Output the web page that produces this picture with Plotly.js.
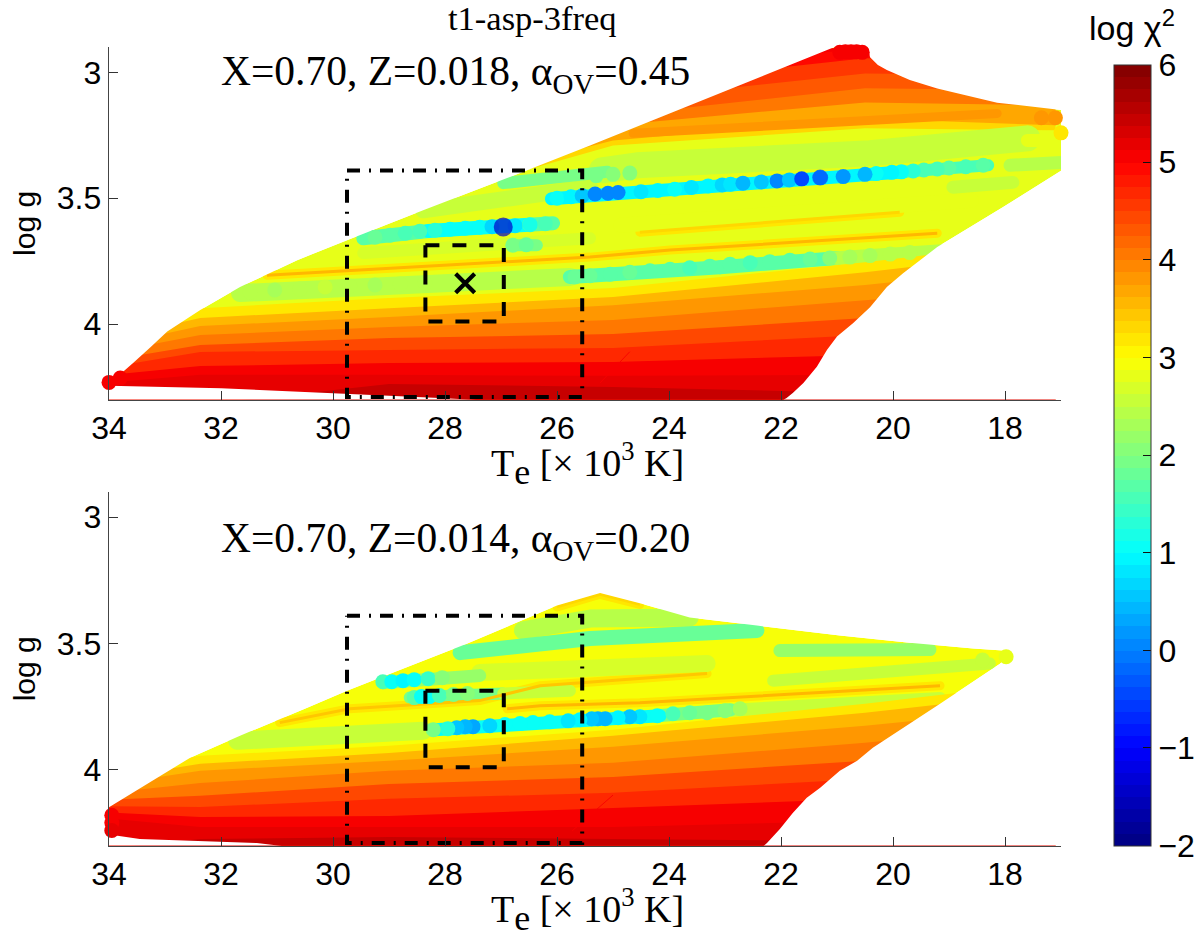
<!DOCTYPE html>
<html><head><meta charset="utf-8">
<script src="https://cdn.plot.ly/plotly-3.0.1.min.js"></script>
<style>html,body{margin:0;padding:0;background:#fff}</style></head>
<body><div id="chart" style="width:1200px;height:945px"></div>
<script>
// ---------- axis ticks ----------
const teTicks = [34,32,30,28,26,24,22,20,18];
const gTicks = [3,3.5,4];
const gTickLabels = ['3','3.5','4'];
const chiTicks = [-2,-1,0,1,2,3,4,5,6];

// ---------- search boxes ----------
const outerTe = [29.75,25.55,25.55,29.75,29.75];
const outerG = [3.39,3.39,4.29,4.29,3.39];
const innerTe = [28.35,26.95,26.95,28.35,28.35];
const innerG = [3.687,3.687,3.99,3.99,3.687];
const starTe = [27.64];
const starG = [3.838];

// ---------- grid outlines ----------
const topHullTe = [34.04,33.8,33.57,33.25,32.96,32.37,31.66,30.64,29.75,28.39,26.89,25.41,20.89,20.46,20.41,20.27,20.11,19.7,19.21,18.14,16.96,16.9,16.9,18.04,19.21,19.82,20.11,20.41,20.71,21.0,21.18,21.36,21.6,21.79,21.9,22.1,26,28,30,32,34.04];
const topHullG = [4.23,4.2,4.155,4.09,4.03,3.944,3.853,3.746,3.667,3.548,3.42,3.29,2.885,2.885,2.94,2.97,2.99,3.03,3.064,3.12,3.15,3.28,3.377,3.536,3.694,3.798,3.853,3.933,3.996,4.05,4.103,4.17,4.234,4.274,4.294,4.32,4.32,4.295,4.275,4.255,4.245];
const botHullTe = [34.05,33.32,32.55,31.66,30.46,29.75,28.98,27.6,26,25.23,24.52,23.63,22.43,20.95,19.75,18.57,18.04,17.95,18.09,19.16,20.36,20.64,20.95,21.3,21.54,21.79,22.02,22.25,22.41,30.2,31.36,33.45,34.05,34.05];
const botHullG = [4.155,4.056,3.952,3.865,3.754,3.687,3.62,3.5,3.349,3.30,3.34,3.397,3.429,3.468,3.496,3.52,3.528,3.552,3.58,3.738,3.913,3.964,4.004,4.071,4.111,4.171,4.234,4.29,4.32,4.32,4.29,4.274,4.254,4.175];

// ---------- log chi2 levels, lower and upper parts of each grid ----------
const stationTe = [34.5,32.37,29,25,20.5,17.1];
const topLowerChi = [3.2,3.5,3.8,4.1,4.4,4.7,5.0,5.2,5.4];
const topLowerG = [
 [4.044,3.937,3.897,3.857,3.754,3.667],
 [4.083,3.976,3.937,3.893,3.794,3.706],
 [4.111,4.008,3.972,3.925,3.845,3.766],
 [4.135,4.044,4.012,3.984,3.905,3.845],
 [4.163,4.083,4.056,4.04,3.976,3.925],
 [4.19,4.111,4.103,4.095,4.044,4.004],
 [4.214,4.167,4.155,4.151,4.123,4.083],
 [4.242,4.202,4.202,4.206,4.202,4.183],
 [4.32,4.32,4.238,4.25,4.274,4.3]];
const botLowerChi = [3.2,3.5,3.8,4.1,4.4,4.7,5.0,5.2,5.4];
const botLowerG = [
 [4.024,3.944,3.905,3.841,3.738,3.65],
 [4.052,3.976,3.933,3.865,3.774,3.69],
 [4.075,4.004,3.964,3.909,3.825,3.75],
 [4.103,4.052,4.004,3.972,3.893,3.82],
 [4.123,4.103,4.056,4.028,3.964,3.9],
 [4.143,4.147,4.115,4.091,4.036,3.98],
 [4.163,4.187,4.183,4.151,4.115,4.06],
 [4.183,4.226,4.226,4.226,4.202,4.16],
 [4.321,4.274,4.266,4.274,4.282,4.3]];
const upperTe = [28.46,25,20.5,17.1];
const topUpperChi = [3.3,3.7,4.0,4.3,4.6,4.9,5.05];
const topUpperG = [
 [3.508,3.29,3.222,3.23],
 [3.468,3.27,3.183,3.21],
 [3.429,3.21,3.119,3.131],
 [3.389,3.171,3.063,3.071],
 [3.349,3.111,3.004,3.012],
 [3.31,3.052,2.944,2.952],
 [3.27,3.0,2.905,2.905]];
const topBaseChi = 2.85;
const botBaseChi = 2.9;

// ---------- broad tracks ----------
const topBroadChi = [2.5,3.75,2.6,1.9,2.75,2.4,1.7,1.7,2.4,2.7,1.7,1.05,1.7,0.95,1.6,2.4,2.6,2.75,1.9];
const topBroadTe = [
 [25.2,24.57,20.41,17.6],[24.64,18.14],[28.39,25.41],[26.96,25.1],[24.86,18.6],[31.66,28.39,25.77],[25.77,23.09],[23.09,21],[21,18.8],
 [29.46,25.41],[29.46,28.3],[28.3,26.5],[26.5,26.07],[26.1,19.8],[19.8,18.3],[17.91,16.96],[18.93,17.86],[17.6,16.9],[26.79,26.36]];
const topBroadG = [
 [3.389,3.369,3.321,3.262],[3.242,3.163],[3.548,3.456],[3.44,3.395],[3.607,3.508],[3.877,3.837,3.813],[3.813,3.774],[3.774,3.738],[3.738,3.706],
 [3.718,3.659],[3.659,3.63],[3.63,3.605],[3.605,3.599],[3.502,3.395],[3.395,3.369],[3.369,3.357],[3.456,3.437],[3.27,3.27],[3.687,3.687]];
const topThinChi = [3.5,3.3];
const topThinTe = [[31.18,25.41,23.98,19.21],[24.52,19.88]];
const topThinG = [[3.806,3.734,3.706,3.639],[3.635,3.556]];
const topSeamTe = [25.23,24.7];
const topSeamG = [4.234,4.11];
const topSeamChi = 5.1;

const botBroadChi = [2.45,1.85,2.2,2.65,2.5,2.6,2.5,1.9,1.0,2.2,1.9,2.5];
const botBroadTe = [
 [26.61,25.41,23.63],[27.73,25.41,22.43],[22.02,19.34],[27.38,26.3,23.32],[22.14,18.27],[31.71,28.39],
 [23.04,19.16],[24.2,22.9],[28.18,25.41,24.16],[29.11,27.38],[28.63,26.96],[26.96,25.77]];
const botBroadG = [
 [3.448,3.401,3.397],[3.536,3.48,3.448],[3.528,3.524],[3.615,3.607,3.579],[3.647,3.579],[3.885,3.845],
 [3.766,3.718],[3.786,3.762],[3.841,3.8,3.786],[3.655,3.627],[3.714,3.698],[3.698,3.687]];
const botThinChi = [3.45,3.5,3.3];
const botThinTe = [[30.95,29.7,27.38,26.3,23.32],[26.89,26.3,24.52,19.16],[26,25.23,24.52]];
const botThinG = [[3.813,3.758,3.726,3.667,3.619],[3.758,3.746,3.734,3.667],[3.355,3.305,3.345]];
const botSeamTe = [25.73,25.0];
const botSeamG = [4.242,4.1];
const botSeamChi = 5.1;

// ---------- individual models ----------
const topPointTe = [20.95,20.85,20.75,20.65,20.55,34.0,33.8, 17.35,17.1,16.98,16.98,17.0,
 31.48,31.04,30.59,30.14,29.7,29.25,28.8,28.36,
 19.7,20.05,20.41,20.77,21.13,21.48,21.84,22.2,22.55,22.91,23.27,23.63,23.98,24.34,24.7,25.05,25.41,25.68,
 26.79,26.55,
 29.25,28.98,28.71,28.45,28.18,27.91,27.64,27.38,27.16,26.75,26.48,26.21,
 25.3,25.0,24.7,
 18.39,18.7,19.0,19.21,19.45,19.64,19.85,20.02,20.3,
 26.0,25.75,25.55,24.5,24.2,23.9,23.6,23.3,23.05,22.9,22.68,22.35,22.07,21.85,21.3,21.63,20.89,20.5,
 25.32,25.09,24.91];
const topPointG = [2.92,2.918,2.918,2.918,2.92,4.232,4.215, 3.18,3.18,3.28,3.36,3.24,
 3.873,3.865,3.861,3.853,3.849,3.845,3.841,3.837,
 3.716,3.722,3.728,3.734,3.738,3.742,3.746,3.752,3.756,3.762,3.77,3.776,3.782,3.788,3.794,3.802,3.808,3.813,
 3.687,3.685,
 3.655,3.647,3.639,3.631,3.627,3.623,3.619,3.615,3.613,3.609,3.605,3.601,
 3.41,3.405,3.4,
 3.369,3.375,3.38,3.384,3.388,3.392,3.395,3.397,3.402,
 3.5,3.494,3.49,3.474,3.469,3.464,3.457,3.451,3.447,3.444,3.44,3.435,3.431,3.427,3.418,3.423,3.414,3.405,
 3.483,3.48,3.477];
const topPointChi = [5.05,5.05,5.05,5.05,5.0,5.0,5.0, 3.75,3.75,2.75,2.4,3.2,
 2.45,2.35,2.4,2.5,2.45,2.35,2.4,2.45,
 2.45,2.4,2.35,2.3,2.0,1.75,1.7,1.65,1.6,1.7,1.65,1.6,1.7,1.65,1.75,1.7,1.75,1.8,
 1.9,1.85,
 1.8,1.7,1.5,1.5,1.3,1.05,1.0,1.05,0.7,0.8,1.2,1.6,
 1.9,2.0,2.1,
 1.7,1.6,1.65,1.55,1.5,1.3,1.05,0.9,1.0,
 1.0,0.9,0.6,0.8,0.95,1.0,0.85,0.95,0.7,0.8,0.4,0.6,0.1,0.5,0.2,-0.4,0.2,0.4,
 0.05,0.0,0.1];
const topBestTe = [21.3,26.96];
const topBestG = [3.418,3.614];
const topBestChi = [-0.35,-1.4];

const botPointTe = [17.98,18.4,33.95,33.95,33.95,
 22.73,23,23.32,23.63,23.93,24.21,24.52,24.7,24.91,25.14,25.27,25.38,25.59,25.8,26.13,26.43,26.66,26.93,27.2,27.5,27.64,27.79,27.95,28.21,
 29.11,28.95,28.75,28.55,28.3,28.05,
 28.55,28.42,28.28,28.1,27.85,27.6];
const botPointG = [3.552,3.565,4.18,4.21,4.24,
 3.758,3.766,3.774,3.774,3.778,3.786,3.79,3.79,3.794,3.798,3.798,3.798,3.802,3.806,3.81,3.813,3.817,3.821,3.825,3.829,3.829,3.833,3.837,3.841,
 3.651,3.651,3.647,3.643,3.639,3.635,
 3.714,3.71,3.71,3.706,3.702,3.698];
const botPointChi = [2.8,2.6,5.0,5.1,5.2,
 2.3,2.1,1.9,1.8,1.6,1.1,0.75,0.6,0.95,0.45,0.4,0.5,0.9,0.85,1.0,1.0,1.1,1.05,0.7,0.25,0.45,0.5,1.3,1.9,
 1.5,1.0,0.95,1.1,1.4,2.0,
 1.7,1.0,1.0,1.6,1.9,2.0];

// ---------- colour map ----------
const jetLevels = 64, chiMin = -2, chiMax = 6;
function clamp01(v){return Math.max(0,Math.min(1,v));}
function jetLevelColor(i){
  const t=(i+0.5)/jetLevels;
  const c=k=>Math.round(255*clamp01(1.5-Math.abs(4*t-k)));
  return `rgb(${c(3)},${c(2)},${c(1)})`;
}
function jet(v){
  const i=Math.max(0,Math.min(jetLevels-1,Math.floor((v-chiMin)/(chiMax-chiMin)*jetLevels)));
  return jetLevelColor(i);
}
const stepScale=[];
for(let i=0;i<jetLevels;i++){
  stepScale.push([i/jetLevels,jetLevelColor(i)]);
  stepScale.push([(i+1)/jetLevels,jetLevelColor(i)]);
}

// ---------- traces ----------
const traces=[];
const off={hoverinfo:'skip',showlegend:false};
function polygon(xs,ys,chi,ax){
  traces.push(Object.assign({type:'scatter',mode:'none',x:xs,y:ys,fill:'toself',fillcolor:jet(chi),xaxis:ax[0],yaxis:ax[1]},off));
}
function path(xs,ys,color,width,ax,dash){
  traces.push(Object.assign({type:'scatter',mode:'lines',x:xs,y:ys,xaxis:ax[0],yaxis:ax[1],
    line:{color:color,width:width,dash:dash||'solid',shape:'linear'}},off));
}
function panel(ax,o){
  polygon(o.hullTe,o.hullG,o.base,ax);
  o.upperChi.forEach((c,k)=>polygon(upperTe.concat([17.1,28.46]),o.upperG[k].concat([2.905,2.905]),c,ax));
  o.thinChi.forEach((c,k)=>path(o.thinTe[k],o.thinG[k],jet(3.15),9,ax));
  o.broadChi.forEach((c,k)=>path(o.broadTe[k],o.broadG[k],jet(c),o.wide[k]||15,ax));
  o.lowerChi.forEach((c,k)=>polygon(stationTe.concat([17.1,34.5]),o.lowerG[k].concat([4.5,4.5]),c,ax));
  o.thinChi.forEach((c,k)=>path(o.thinTe[k],o.thinG[k],jet(c),3,ax));
  path(o.seamTe,o.seamG,jet(o.seamChi),0.9,ax);
  // white outside the model grid
  const maskX=[34.6,34.6,16.4,16.4,34.6,null].concat(o.hullTe);
  const maskY=[2.7,4.5,4.5,2.7,2.7,null].concat(o.hullG);
  traces.push(Object.assign({type:'scatter',mode:'none',x:maskX,y:maskY,fill:'toself',fillcolor:'#ffffff',xaxis:ax[0],yaxis:ax[1]},off));
  traces.push(Object.assign({type:'scatter',mode:'markers',x:o.pTe,y:o.pG,xaxis:ax[0],yaxis:ax[1],cliponaxis:false,
    marker:{size:15,color:o.pChi,coloraxis:'coloraxis',line:{width:0}}},off));
  path(outerTe,outerG,'#000',4,ax,'13px,9px,2px,9px');
  path(innerTe,innerG,'#000',4,ax,'14px,13px');
}
panel(['x','y'],{hullTe:topHullTe,hullG:topHullG,base:topBaseChi,upperChi:topUpperChi,upperG:topUpperG,
  broadChi:topBroadChi,broadTe:topBroadTe,broadG:topBroadG,wide:[26,9,16,12,15,18,14,14,14,12,14,14,14,13,12,13,13,13,12],
  lowerChi:topLowerChi,lowerG:topLowerG,thinChi:topThinChi,thinTe:topThinTe,thinG:topThinG,seamTe:topSeamTe,seamG:topSeamG,seamChi:topSeamChi,
  pTe:topPointTe,pG:topPointG,pChi:topPointChi});
traces.push(Object.assign({type:'scatter',mode:'markers',x:topBestTe,y:topBestG,xaxis:'x',yaxis:'y',
  marker:{size:[16,19],color:topBestChi,coloraxis:'coloraxis',line:{width:0}}},off));
traces.push(Object.assign({type:'scatter',mode:'markers',x:starTe,y:starG,xaxis:'x',yaxis:'y',
  marker:{symbol:'x-thin',size:19,color:'#000',line:{width:4.2,color:'#000'}}},off));
panel(['x2','y2'],{hullTe:botHullTe,hullG:botHullG,base:botBaseChi,upperChi:[],upperG:[],
  broadChi:botBroadChi,broadTe:botBroadTe,broadG:botBroadG,wide:[18,15,13,17,12,18,13,13,13,13,12,12],
  lowerChi:botLowerChi,lowerG:botLowerG,thinChi:botThinChi,thinTe:botThinTe,thinG:botThinG,seamTe:botSeamTe,seamG:botSeamG,seamChi:botSeamChi,
  pTe:botPointTe,pG:botPointG,pChi:botPointChi});

// ---------- layout ----------
const sans='"Liberation Sans", Arial, sans-serif';
const serif='"Liberation Serif", "Times New Roman", serif';
function xAxis(anchor){
  return {domain:[109/1200,1061/1200],range:[34,17],anchor:anchor,tickmode:'array',tickvals:teTicks,ticktext:teTicks.map(String),
    ticks:'inside',ticklen:9,tickwidth:1,tickcolor:'#333',showline:true,linecolor:'#444',linewidth:1.4,showgrid:false,zeroline:false,
    tickfont:{family:sans,size:32,color:'#000'}};
}
function yAxis(dom,anchor){
  return {domain:dom,range:[4.3,2.9],anchor:anchor,tickmode:'array',tickvals:gTicks,ticktext:gTickLabels,
    ticks:'inside',ticklen:9,tickwidth:1,tickcolor:'#333',showline:true,linecolor:'#444',linewidth:1.4,showgrid:false,zeroline:false,
    tickfont:{family:sans,size:32,color:'#000'},
    title:{text:'log g',font:{family:sans,size:30,color:'#000'},standoff:12}};
}
const xTitle='T<sub><span style="font-size:36px">e</span></sub> [× 10<sup>3</sup> K]';
function note(px,py,anchor,text,family,size){
  return {xref:'paper',yref:'paper',x:px/1200,y:1-py/945,xanchor:anchor,yanchor:'middle',showarrow:false,text:text,font:{family:family,size:size,color:'#000'}};
}
const layout={
  width:1200,height:945,margin:{l:0,r:0,t:0,b:0,autoexpand:false},paper_bgcolor:'#fff',plot_bgcolor:'#fff',showlegend:false,
  xaxis:xAxis('y'),
  yaxis:yAxis([1-399.5/945,1-47.3/945],'x'),
  xaxis2:xAxis('y2'),
  yaxis2:yAxis([1-845.6/945,1-492/945],'x2'),
  coloraxis:{cmin:chiMin,cmax:chiMax,colorscale:stepScale,
    colorbar:{x:1114/1200,xanchor:'left',y:1-845.6/945,yanchor:'bottom',len:780.6/945,lenmode:'fraction',thickness:37,thicknessmode:'pixels',
      xpad:0,ypad:0,outlinewidth:1,outlinecolor:'#333',ticks:'inside',ticklen:8,tickcolor:'#111',tickwidth:1,
      tickmode:'array',tickvals:chiTicks,tickfont:{family:sans,size:32,color:'#000'}}},
  annotations:[
    note(532,18,'center','t1-asp-3freq',serif,34.5),
    note(219,74,'left','X=0.70, Z=0.018, α<sub>OV</sub>=0.45',serif,41.5),
    note(219,541,'left','X=0.70, Z=0.014, α<sub>OV</sub>=0.20',serif,41.5),
    note(1132,26,'center','log χ<sup>2</sup>',sans,34),
    note(587,464,'center',xTitle,serif,38),
    note(587,910,'center',xTitle,serif,38)
  ]
};
Plotly.newPlot('chart',traces,layout,{displayModeBar:false,staticPlot:true}).then(gd=>{
  // broad tracks are rows of round models: give them rounded ends
  gd.querySelectorAll('.js-line').forEach(el=>{
    if(parseFloat(el.style.strokeWidth)>5){el.style.strokeLinecap='round';el.style.strokeLinejoin='round';}
  });
});
</script></body></html>
